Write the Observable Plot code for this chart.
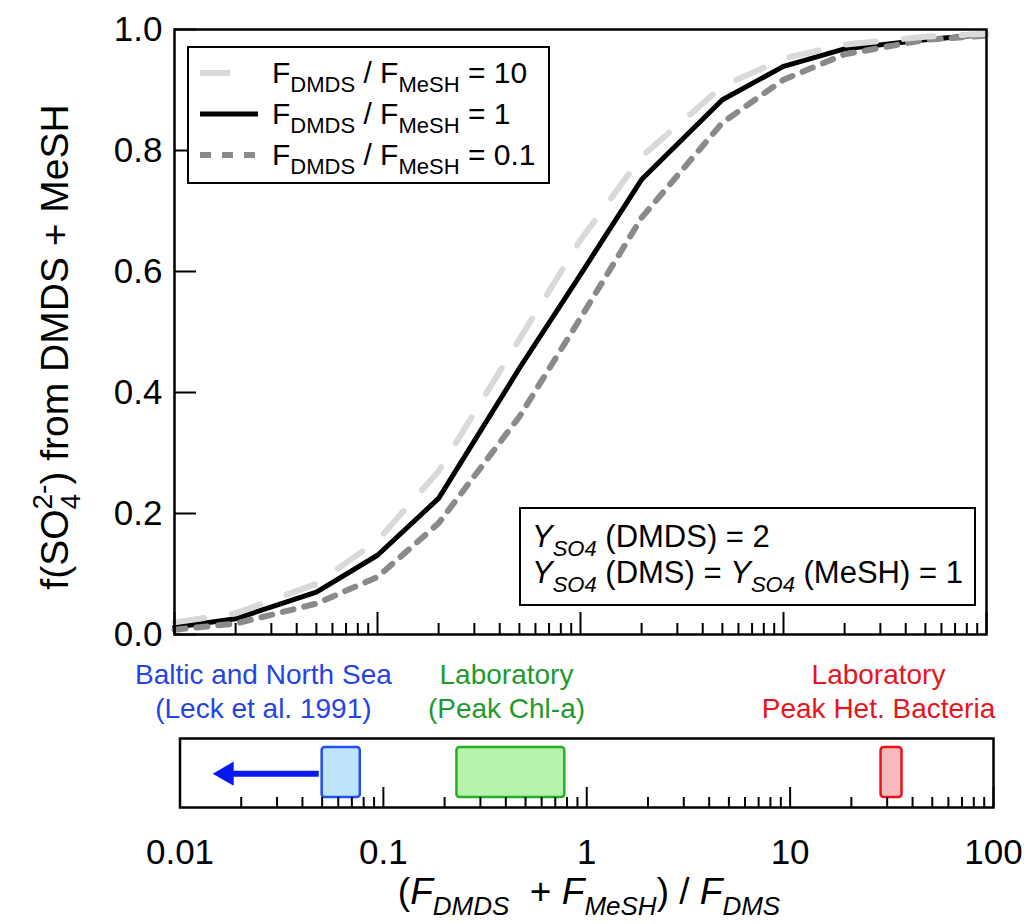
<!DOCTYPE html>
<html>
<head>
<meta charset="utf-8">
<script src="https://cdn.jsdelivr.net/npm/d3@7"></script>
<script src="https://cdn.jsdelivr.net/npm/@observablehq/plot@0.6"></script>
<style>
  body { margin: 0; background: #fff; }
  #chart { position: relative; width: 1029px; height: 924px; font-family: "Liberation Sans", Arial, sans-serif; }
  #chart svg { position: absolute; left: 0; display: block; overflow: visible; }
  text { white-space: pre; }
</style>
</head>
<body>
<div id="chart"></div>
<script>
// ---------- data ----------
const ratioX   = [0.01, 0.02, 0.05, 0.1, 0.2, 0.5, 1, 2, 5, 10, 20, 50, 100];
const fRatio10 = [0.020, 0.035, 0.084, 0.155, 0.270, 0.488, 0.652, 0.790, 0.906, 0.952, 0.975, 0.988, 0.993];
const fRatio1  = [0.012, 0.026, 0.070, 0.131, 0.225, 0.440, 0.595, 0.752, 0.884, 0.939, 0.968, 0.983, 0.992];
const fRatio01 = [0.008, 0.018, 0.051, 0.095, 0.184, 0.360, 0.523, 0.689, 0.846, 0.917, 0.959, 0.983, 0.990];
const seriesRatio = ["10", "1", "0.1"];

const yTicks = [0, 0.2, 0.4, 0.6, 0.8, 1.0];
const yTickLabels = ["0.0", "0.2", "0.4", "0.6", "0.8", "1.0"];
const xMajor = [0.01, 0.1, 1, 10, 100];
const xTickLabels = ["0.01", "0.1", "1", "10", "100"];
const xMinor = [0.02, 0.03, 0.04, 0.05, 0.06, 0.07, 0.08, 0.09,
                0.2, 0.3, 0.4, 0.5, 0.6, 0.7, 0.8, 0.9,
                2, 3, 4, 5, 6, 7, 8, 9,
                20, 30, 40, 50, 60, 70, 80, 90];

const obsName  = ["Baltic and North Sea", "Laboratory (Peak Chl-a)", "Laboratory Peak Het. Bacteria"];
const obsLo    = [0.050, 0.23, 28];
const obsHi    = [0.077, 0.78, 35.5];
const obsText  = ["Baltic and North Sea\n(Leck et al. 1991)", "Laboratory\n(Peak Chl-a)", "Laboratory\nPeak Het. Bacteria"];
const obsTextX = [0.0257, 0.403, 27.2];
const arrowFrom = [0.042];
const arrowTo   = [0.0155];

// ---------- styles ----------
const obsFill   = ["#bfe3fa", "#b6f4ae", "#f8b9bd"];
const obsStroke = ["#2050f0", "#22b022", "#e8141c"];
const obsColor  = ["#2444e8", "#1f9a2c", "#e8141c"];
const lineStyle = {
  "10":  {stroke: "#d9d9d9", strokeWidth: 6, strokeDasharray: "30,28"},
  "1":   {stroke: "#000000", strokeWidth: 5, strokeDasharray: null},
  "0.1": {stroke: "#8a8a8a", strokeWidth: 6, strokeDasharray: "11,11"}
};

const curves = {
  "10":  ratioX.map((x, i) => ({x, f: fRatio10[i]})),
  "1":   ratioX.map((x, i) => ({x, f: fRatio1[i]})),
  "0.1": ratioX.map((x, i) => ({x, f: fRatio01[i]}))
};
const obs = obsName.map((name, i) => ({name, lo: obsLo[i], hi: obsHi[i], text: obsText[i], tx: obsTextX[i], fill: obsFill[i], stroke: obsStroke[i], color: obsColor[i]}));
const arrow = arrowFrom.map((a, i) => ({from: a, to: arrowTo[i]}));

const FONT = "Liberation Sans, Arial, sans-serif";
const TICKFONT = 35;

// ---------- top panel ----------
const topPlot = Plot.plot({
  width: 1029, height: 660,
  marginLeft: 174, marginRight: 43, marginTop: 29, marginBottom: 26,
  style: {fontFamily: FONT, background: "transparent", color: "#000"},
  x: {type: "log", domain: [0.01, 100]},
  y: {domain: [0, 1]},
  marks: [
    Plot.line(curves["1"], {x: "x", y: "f", ...lineStyle["1"]}),
    Plot.line(curves["0.1"], {x: "x", y: "f", ...lineStyle["0.1"]}),
    Plot.line(curves["10"], {x: "x", y: "f", ...lineStyle["10"]}),
    Plot.axisY({ticks: yTicks, tickSize: 0, tickPadding: 12, tickFormat: d => yTickLabels[yTicks.indexOf(d)], fontSize: TICKFONT, label: null}),
    Plot.axisY({ticks: yTicks, tickSize: -22, tickFormat: () => "", strokeWidth: 2, label: null}),
    Plot.axisX({ticks: xMajor, tickSize: -22, tickFormat: () => "", strokeWidth: 2, label: null}),
    Plot.axisX({ticks: xMinor, tickSize: -11, tickFormat: () => "", strokeWidth: 2, label: null}),
    Plot.frame({stroke: "#000", strokeWidth: 2.5})
  ]
});
topPlot.style.top = "0px";

// ---------- bottom panel ----------
const bottomPlot = Plot.plot({
  width: 1029, height: 264,
  marginLeft: 179.5, marginRight: 36, marginTop: 78, marginBottom: 117,
  style: {fontFamily: FONT, background: "transparent", color: "#000"},
  x: {type: "log", domain: [0.01, 100]},
  y: {domain: [0, 1], axis: null},
  marks: [
    Plot.rect(obs, {x1: "lo", x2: "hi", y1: 0.145, y2: 0.87, fill: "fill", stroke: "stroke", strokeWidth: 2.5, rx: 3}),
    Plot.link(arrow, {x1: "from", x2: "to", y1: 0.49, y2: 0.49, stroke: "#0a18f0", strokeWidth: 6, dx: 12}),
    Plot.dot(arrow, {x: "to", y: 0.49, symbol: "triangle", r: 9, fill: "#0a18f0", rotate: -90, dx: 8}),
    Plot.axisX({ticks: xMajor, tickSize: 0, tickPadding: 32, tickFormat: d => xTickLabels[xMajor.indexOf(d)], fontSize: TICKFONT, label: null}),
    Plot.axisX({ticks: xMajor, tickSize: -20, tickFormat: () => "", strokeWidth: 2, label: null}),
    Plot.axisX({ticks: xMinor, tickSize: -10, tickFormat: () => "", strokeWidth: 2, label: null}),
    Plot.frame({stroke: "#000", strokeWidth: 2.5}),
    Plot.text(obs, {x: "tx", y: 1.696, text: "text", fill: "color", fontSize: 28, lineHeight: 1.214, lineAnchor: "middle", textAnchor: "middle"})
  ]
});
bottomPlot.style.top = "660px";

const chart = document.getElementById("chart");
chart.appendChild(topPlot);
chart.appendChild(bottomPlot);

// ---------- rich text helper ----------
function rich(textSel, parts, size, small) {
  let shift = 0;
  for (const p of parts) {
    const target = p.sub ? size * 0.3 : p.sup ? -size * 0.42 : 0;
    const ts = textSel.append("tspan")
      .attr("dy", target - shift)
      .attr("font-size", (p.sub || p.sup) ? small : size)
      .text(p.t);
    if (p.dx) ts.attr("dx", p.dx);
    if (p.italic) ts.attr("font-style", "italic");
    shift = target;
  }
}

const st = d3.select(topPlot);

// y-axis title
const YL = 39, YLs = 28;
const ylab = st.append("text")
  .attr("transform", "translate(68,347) rotate(-90)")
  .attr("text-anchor", "middle")
  .attr("font-family", FONT).attr("fill", "#000");
rich(ylab, [
  {t: "f(SO"}, {t: "4", sub: true}, {t: "2-", sup: true, dx: -0.556 * YLs}, {t: ") from DMDS + MeSH"}
], YL, YLs);

// legend
const leg = st.append("g");
leg.append("rect").attr("x", 188).attr("y", 47).attr("width", 361).attr("height", 136)
  .attr("fill", "#fff").attr("stroke", "#000").attr("stroke-width", 2);
const rowY = [73, 114, 155];
seriesRatio.forEach((r, i) => {
  const s = lineStyle[r];
  leg.append("line").attr("x1", 200).attr("x2", 258).attr("y1", rowY[i]).attr("y2", rowY[i])
    .attr("stroke", s.stroke).attr("stroke-width", s.strokeWidth)
    .attr("stroke-dasharray", s.strokeDasharray);
  const t = leg.append("text").attr("x", 272).attr("y", rowY[i] + 10)
    .attr("text-anchor", "start")
    .attr("font-family", FONT).attr("fill", "#000");
  rich(t, [{t: "F"}, {t: "DMDS", sub: true}, {t: " / F"}, {t: "MeSH", sub: true}, {t: " = " + r}], 30, 22);
});

// yield box
const yb = st.append("g");
yb.append("rect").attr("x", 520).attr("y", 508).attr("width", 455).attr("height", 97)
  .attr("fill", "#fff").attr("stroke", "#000").attr("stroke-width", 2);
const t1 = yb.append("text").attr("x", 532).attr("y", 547).attr("text-anchor", "start")
  .attr("font-family", FONT).attr("fill", "#000");
rich(t1, [{t: "Y", italic: true}, {t: "SO4", sub: true, italic: true}, {t: " (DMDS) = 2"}], 31, 22);
const t2 = yb.append("text").attr("x", 532).attr("y", 583).attr("text-anchor", "start")
  .attr("font-family", FONT).attr("fill", "#000");
rich(t2, [{t: "Y", italic: true}, {t: "SO4", sub: true, italic: true}, {t: " (DMS) = "},
          {t: "Y", italic: true}, {t: "SO4", sub: true, italic: true}, {t: " (MeSH) = 1"}], 31, 22);

// x-axis title
const sb = d3.select(bottomPlot);
const xl = sb.append("text").attr("x", 589).attr("y", 244).attr("text-anchor", "middle")
  .attr("font-family", FONT).attr("fill", "#000");
rich(xl, [{t: "("}, {t: "F", italic: true}, {t: "DMDS", sub: true, italic: true}, {t: "  + "},
          {t: "F", italic: true}, {t: "MeSH", sub: true, italic: true}, {t: ") / "},
          {t: "F", italic: true}, {t: "DMS", sub: true, italic: true}], 37, 26);
</script>
</body>
</html>
